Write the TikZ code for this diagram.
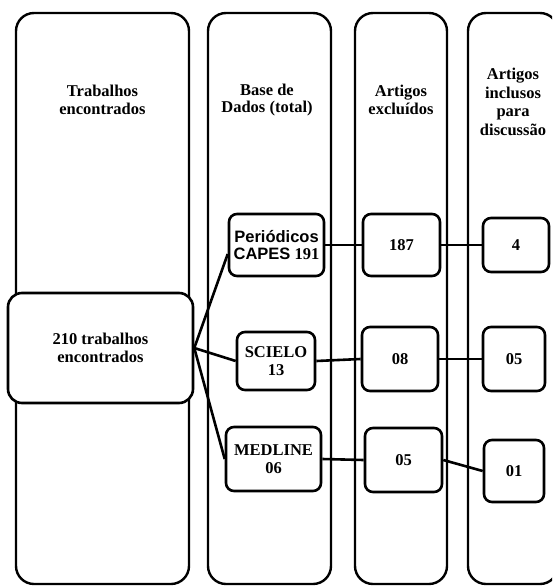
\documentclass[tikz,border=0pt]{standalone}
\usepackage{fontspec}
\setmainfont{Liberation Serif}
\newfontfamily\arialf{Liberation Sans}
\begin{document}
\begin{tikzpicture}[x=1pt,y=-1pt,
  col/.style={draw, line width=2.4pt, rounded corners=18pt, minimum width=#1, minimum height=571pt, inner sep=0pt},
  box/.style={draw, fill=white, line width=2.6pt, rounded corners=8pt, inner sep=0pt, align=center,
    font=\bfseries\fontsize{16.5}{17.5}\selectfont},
  hdr/.style={align=center, inner sep=0pt, font=\bfseries\fontsize{16.5}{17.5}\selectfont},
  link/.style={line width=2.6pt}]
\useasboundingbox (0,0) rectangle (552,586);
\clip (0,0) rectangle (552,586);
% columns
\node[col=173pt] (c1) at (102.5,298.5) {};
\node[col=123pt] (c2) at (269.5,298.5) {};
\node[col=92pt]  (c3) at (401,298.5) {};
\node[col=90pt]  (c4) at (513,298.5) {};
% headers
\node[hdr] (h1) at (102.5,100) {Trabalhos\\encontrados};
\node[hdr] (h2) at (267,100) {Base de\\Dados (total)};
\node[hdr] (h3) at (401,100) {Artigos\\excluídos};
\node[hdr, font=\bfseries\fontsize{16.5}{18.7}\selectfont] (h4) at (513,102) {Artigos\\inclusos\\para\\discussão};
% boxes
\node[box, minimum width=185pt, minimum height=110pt, rounded corners=14pt] (t) at (100.5,348) {210 trabalhos\\encontrados};
\node[box, minimum width=95pt, minimum height=62pt] (p) at (276.5,245) {{\arialf Periódicos}\\{\arialf CAPES} 191};
\node[box, minimum width=78pt, minimum height=58pt] (s) at (276,361) {SCIELO\\13};
\node[box, minimum width=95pt, minimum height=64pt] (m) at (273.5,459) {MEDLINE\\06};
\node[box, minimum width=77pt, minimum height=62pt] (e1) at (401.5,245) {187};
\node[box, minimum width=76pt, minimum height=64pt] (e2) at (400,359) {08};
\node[box, minimum width=77pt, minimum height=64pt] (e3) at (403.5,460) {05};
\node[box, minimum width=66pt, minimum height=54pt] (i1) at (516,245) {4};
\node[box, minimum width=62pt, minimum height=64pt] (i2) at (514,359) {05};
\node[box, minimum width=60pt, minimum height=62pt] (i3) at (514,471) {01};
% links
\draw[link] (t.east) -- ([yshift=-9pt]p.west);
\draw[link] (t.east) -- (s.west);
\draw[link] (t.east) -- (m.west);
\draw[link] (p.east) -- (e1.west);
\draw[link] (e1.east) -- (i1.west);
\draw[link] (s.east) -- (e2.west);
\draw[link] (e2.east) -- (i2.west);
\draw[link] (m.east) -- (e3.west);
\draw[link] (e3.east) -- (i3.west);
\end{tikzpicture}
\end{document}
